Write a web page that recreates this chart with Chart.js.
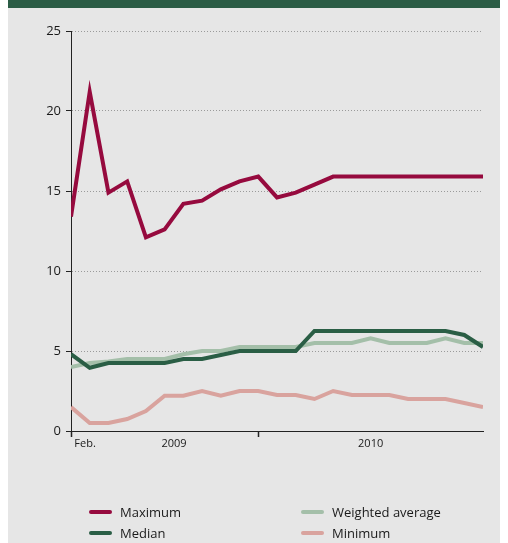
<!DOCTYPE html>
<html>
<head>
<meta charset="utf-8">
<script src="https://cdn.jsdelivr.net/npm/chart.js@4.4.1/dist/chart.umd.min.js"></script>
<style>
  html, body { margin: 0; padding: 0; background: #ffffff; }
  body { width: 508px; height: 543px; position: relative; overflow: hidden; font-family: "Open Sans", "Noto Sans", sans-serif; }
  #panel { position: absolute; left: 8px; top: 0; width: 492px; height: 543px; background: #e6e6e6; }
  #band { position: absolute; left: 8px; top: 0; width: 492px; height: 8px; background: #2b5c45; }
  #wrap { position: absolute; left: 0; top: 0; width: 508px; height: 470px; }
  #legend { position: absolute; left: 0; top: 0; width: 508px; height: 543px; pointer-events: none; }
  .item { position: absolute; height: 20px; line-height: 20px; font-size: 13px; color: #1a1a1a; white-space: nowrap; }
  .sw { position: absolute; left: 0; top: 8px; width: 23px; height: 4px; border-radius: 2px; }
  .item span.t { position: absolute; left: 31px; top: 0; }
</style>
</head>
<body>
<div id="panel"></div>
<div id="band"></div>
<div id="wrap"><canvas id="c" width="508" height="470"></canvas></div>
<div id="legend"></div>
<script>
// Monthly observations, Feb. 2009 to Dec. 2010
const months = ['Feb','Mar','Apr','May','Jun','Jul','Aug','Sep','Oct','Nov','Dec',
                'Jan','Feb','Mar','Apr','May','Jun','Jul','Aug','Sep','Oct','Nov','Dec'];

const maximum  = [13.4, 21.2, 14.9, 15.6, 12.1, 12.6, 14.2, 14.4, 15.1, 15.6, 15.9,
                  14.6, 14.9, 15.4, 15.9, 15.9, 15.9, 15.9, 15.9, 15.9, 15.9, 15.9, 15.9];
const median   = [4.8, 3.95, 4.25, 4.25, 4.25, 4.25, 4.5, 4.5, 4.75, 5.0, 5.0,
                  5.0, 5.0, 6.25, 6.25, 6.25, 6.25, 6.25, 6.25, 6.25, 6.25, 6.0, 5.25];
const weighted = [4.0, 4.25, 4.35, 4.5, 4.5, 4.5, 4.8, 5.0, 5.0, 5.25, 5.25,
                  5.25, 5.25, 5.5, 5.5, 5.5, 5.8, 5.5, 5.5, 5.5, 5.8, 5.5, 5.5];
const minimum  = [1.5, 0.5, 0.5, 0.75, 1.25, 2.2, 2.2, 2.5, 2.2, 2.5, 2.5,
                  2.25, 2.25, 2.0, 2.5, 2.25, 2.25, 2.25, 2.0, 2.0, 2.0, 1.75, 1.5];

const yTicks = [0, 5, 10, 15, 20, 25];
// x axis: tick marks at the start and at the year break, text labels in between
const xTickMarks = [0, 10];
const xTickLabels = [
  { value: 0.75, text: 'Feb.' },
  { value: 5.5,  text: '2009' },
  { value: 16,   text: '2010' }
];

const series = [
  { label: 'Maximum',          data: maximum,  color: '#960a3e' },
  { label: 'Median',           data: median,   color: '#2a5e45' },
  { label: 'Weighted average', data: weighted, color: '#a4bfa9' },
  { label: 'Minimum',          data: minimum,  color: '#d9a39e' }
];

const toPoints = arr => arr.map((v, i) => ({ x: i, y: v }));

const xTicksAll = xTickMarks.map(v => ({ value: v, text: '', mark: true }))
  .concat(xTickLabels.map(t => ({ value: t.value, text: t.text, mark: false })))
  .sort((a, b) => a.value - b.value);

new Chart(document.getElementById('c'), {
  type: 'line',
  data: {
    datasets: series.map(s => ({
      label: s.label,
      data: toPoints(s.data),
      borderColor: s.color,
      backgroundColor: s.color,
      borderWidth: 4,
      pointRadius: 0,
      tension: 0,
      fill: false
    }))
  },
  options: {
    responsive: false,
    animation: false,
    events: [],
    layout: { padding: { top: 31, right: 25, left: 0, bottom: 0 } },
    plugins: { legend: { display: false }, tooltip: { enabled: false } },
    scales: {
      x: {
        type: 'linear',
        min: 0,
        max: months.length - 1,
        afterBuildTicks: axis => { axis.ticks = xTicksAll.map(t => ({ value: t.value })); },
        afterFit: s => { s.height = 39; },
        ticks: {
          autoSkip: false,
          maxRotation: 0,
          padding: 0,
          color: '#1a1a1a',
          font: { family: '"Open Sans", "Noto Sans", sans-serif', size: 11 },
          callback: (value) => {
            const t = xTicksAll.find(k => Math.abs(k.value - value) < 1e-6);
            return t ? t.text : '';
          }
        },
        grid: {
          drawOnChartArea: false,
          tickLength: 6,
          tickWidth: 1.5,
          tickColor: ctx => {
            const t = xTicksAll.find(k => ctx.tick && Math.abs(k.value - ctx.tick.value) < 1e-6);
            return t && t.mark ? '#222222' : 'rgba(0,0,0,0)';
          }
        },
        border: { display: true, color: '#222222', width: 1 }
      },
      y: {
        min: 0,
        max: 25,
        afterBuildTicks: axis => { axis.ticks = yTicks.map(v => ({ value: v })); },
        afterFit: s => { s.width = 71; },
        ticks: {
          padding: 5,
          color: '#1a1a1a',
          font: { family: '"Open Sans", "Noto Sans", sans-serif', size: 13 }
        },
        grid: {
          tickLength: 5,
          tickColor: '#222222',
          tickBorderDash: [],
          lineWidth: 1,
          color: ctx => (ctx.tick && ctx.tick.value === 0) ? 'rgba(0,0,0,0)' : '#9a9a9a'
        },
        border: { display: true, color: '#222222', width: 1, dash: [1, 2] }
      }
    }
  }
});

// Legend in two columns: Maximum / Weighted average, Median / Minimum
const legendPos = {
  'Maximum':          { left: 89,  top: 502 },
  'Weighted average': { left: 301, top: 502 },
  'Median':           { left: 89,  top: 523 },
  'Minimum':          { left: 301, top: 523 }
};
const legend = document.getElementById('legend');
series.forEach(s => {
  const p = legendPos[s.label];
  const item = document.createElement('div');
  item.className = 'item';
  item.style.left = p.left + 'px';
  item.style.top = p.top + 'px';
  const sw = document.createElement('div');
  sw.className = 'sw';
  sw.style.background = s.color;
  const tx = document.createElement('span');
  tx.className = 't';
  tx.textContent = s.label;
  item.appendChild(sw);
  item.appendChild(tx);
  legend.appendChild(item);
});
</script>
</body>
</html>
